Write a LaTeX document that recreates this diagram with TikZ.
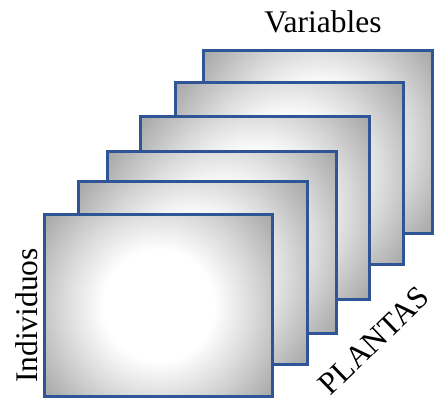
\documentclass[tikz,border=0pt]{standalone}
\usepackage{fontspec}
\setmainfont{Liberation Serif}
\definecolor{plateblue}{RGB}{47,85,151}
\pgfdeclareradialshading{plateshade}{\pgfpoint{0bp}{0bp}}{color(0bp)=(white); color(9.5bp)=(white); color(16bp)=(black!14); color(25bp)=(black!35); color(50bp)=(black!35)}
\begin{document}
\begin{tikzpicture}[x=1pt,y=-1pt,
  plate/.style={rectangle, inner sep=0pt, outer sep=0pt, minimum width=228.5pt, minimum height=182.5pt,
    draw=plateblue, line width=2.6pt,
    path picture={\fill[shading=plateshade] (path picture bounding box.center) circle (146pt);}},
  lab/.style={inner sep=0pt, font=\fontsize{31.5}{31.5}\selectfont}]
\useasboundingbox (0,0) rectangle (434,398);
\node[plate] (p6) at (318,142) {};
\node[plate] (p5) at (289.5,173.5) {};
\node[plate] (p4) at (255,208) {};
\node[plate] (p3) at (222,242.5) {};
\node[plate] (p2) at (193,273) {};
\node[plate] (p1) at (158.5,305.5) {};
\node[lab, anchor=base] (var) at (323,33) {Variables};
\node[lab, anchor=base, rotate=90] (ind) at (37,315.5) {Individuos};
\node[lab, anchor=base, rotate=44] (pla) at (381,348) {PLANTAS};
\end{tikzpicture}
\end{document}
